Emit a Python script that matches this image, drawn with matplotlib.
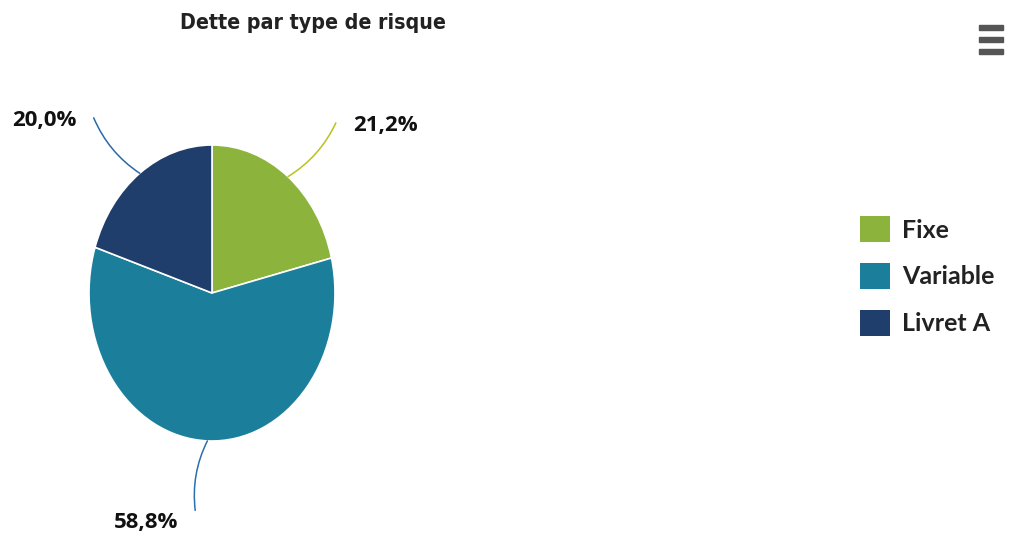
import numpy as np
import matplotlib.pyplot as plt
from matplotlib.patches import Patch, Rectangle

# data
categories = ['Fixe', 'Variable', 'Livret A']
shares = [21.2, 58.8, 20.0]
labels = ['21,2%', '58,8%', '20,0%']
colors = ['#8cb43c', '#1b7f9b', '#1f3e6b']
line_colors = ['#b9c21e', '#2a6fae', '#2a6aa8']

W, H = 1011, 535
fig = plt.figure(figsize=(W / 100, H / 100), dpi=100)

# pie axes: stretched so the pie is drawn as a tall ellipse like the original
ax = fig.add_axes([89 / W, 1 - 441 / H, 246 / W, 296 / H])
wedges, _ = ax.pie(shares, colors=colors, startangle=90, counterclock=False,
                   wedgeprops=dict(edgecolor='white', linewidth=1.2))
ax.set_aspect('auto')
ax.set_xlim(-1, 1)
ax.set_ylim(-1, 1)
ax.axis('off')

# data labels with connectors
for w, lab, col in zip(wedges, labels, line_colors):
    mid = np.radians((w.theta1 + w.theta2) / 2)
    ex, ey = np.cos(mid), np.sin(mid)
    side = 1 if ex >= 0 else -1
    lx, ly = 1.5 * ex + 0.05 * side, 1.5 * ey
    ax.annotate('', xy=(ex, ey), xytext=(lx + 0.03 * side, ly - 0.03 * np.sign(ey)),
                arrowprops=dict(arrowstyle='-', color=col, lw=1.1, shrinkA=0, shrinkB=0,
                                connectionstyle='arc3,rad=%.2f' % (-0.15 * side * np.sign(ey))),
                annotation_clip=False)
    ax.text(lx + 0.17 * side, ly - 0.05, lab, ha='left' if side > 0 else 'right',
            va='center', fontsize=16, fontweight='bold', family='Open Sans',
            color='#111111', clip_on=False)

fig.text(313 / W, 1 - 23 / H, 'Dette par type de risque', ha='center', va='center',
         fontsize=15.3, family='DejaVu Sans', fontstretch='condensed', fontweight='bold',
         color='#222222')

handles = [Patch(facecolor=c, edgecolor='none') for c in colors]
fig.legend(handles, categories, loc='center left', bbox_to_anchor=(860 / W, 1 - 276 / H),
           frameon=False, prop=dict(family='Lato', weight='bold', size=18),
           labelcolor='#222222', handlelength=1.2, handleheight=1.2,
           handletextpad=0.5, labelspacing=0.85, borderaxespad=0, borderpad=0)

# menu icon
for yy in (25, 37, 49):
    fig.patches.append(Rectangle((979 / W, 1 - (yy + 5) / H), 24 / W, 5 / H,
                                 transform=fig.transFigure, color='#555555'))

fig.savefig('out.png', dpi=100, facecolor='white')
